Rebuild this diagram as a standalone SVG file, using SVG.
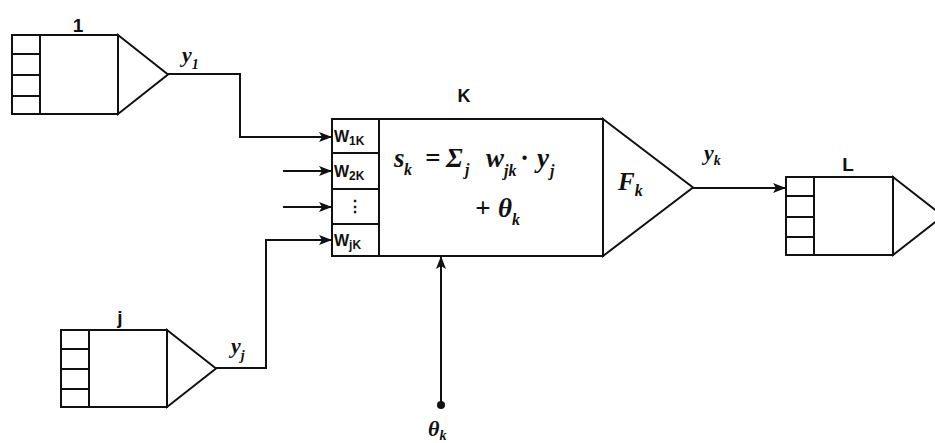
<svg xmlns="http://www.w3.org/2000/svg" width="935" height="443" viewBox="0 0 935 443">
<style>
.s{fill:none;stroke:#111;stroke-width:2;stroke-linejoin:miter}
.b{fill:#fff;stroke:#111;stroke-width:2}
.lab{font-family:"Liberation Sans",Arial,sans-serif;font-weight:bold;fill:#111}
.m{font-family:"Liberation Serif","Times New Roman",serif;font-weight:bold;font-style:italic;fill:#111}
.c{font-family:"Liberation Sans",Arial,sans-serif;font-weight:bold;fill:#111;font-size:16px}
</style>
<defs>
<marker id="ar" markerUnits="userSpaceOnUse" markerWidth="14" markerHeight="12" refX="13" refY="6" orient="auto">
<path d="M0,1 L13,6 L0,11 L3,6 Z" fill="#111"/>
</marker>
</defs>
<rect width="935" height="443" fill="#fff"/>

<g id="node-1">
<rect class="b" x="12" y="35" width="106" height="79"/>
<line class="s" x1="40" y1="35" x2="40" y2="114"/>
<path class="s" d="M12,54 H40 M12,75 H40 M12,96 H40"/>
<path class="b" d="M118,35 L168,74.5 L118,114 Z"/>
<text class="lab" x="78" y="32" font-size="19" text-anchor="middle">1</text>
</g>

<g id="node-j">
<rect class="b" x="61" y="330" width="106" height="77"/>
<line class="s" x1="89" y1="330" x2="89" y2="407"/>
<path class="s" d="M61,349 H89 M61,369 H89 M61,389 H89"/>
<path class="b" d="M167,330 L216,368.5 L167,407 Z"/>
<text class="lab" x="120" y="324" font-size="19" text-anchor="middle">j</text>
</g>

<g id="node-K">
<rect class="b" x="332" y="119" width="271" height="137"/>
<line class="s" x1="379" y1="119" x2="379" y2="256"/>
<path class="s" d="M332,153 H379 M332,189 H379 M332,224 H379"/>
<path class="b" d="M603,119 L693,187.5 L603,256 Z"/>
<text class="lab" x="464" y="102" font-size="18" text-anchor="middle">K</text>
<text class="c" x="334" y="142">W<tspan font-size="12" dy="3">1K</tspan></text>
<text class="c" x="334" y="177">W<tspan font-size="12" dy="3">2K</tspan></text>
<text class="c" x="355" y="212" text-anchor="middle">⋮</text>
<text class="c" x="334" y="246">W<tspan font-size="12" dy="3">jK</tspan></text>
<text class="m" font-size="27"><tspan x="394" y="167">s</tspan><tspan x="404" y="175" font-size="16">k</tspan><tspan x="425" y="167">=</tspan><tspan x="446" y="167">Σ</tspan><tspan x="465" y="175" font-size="16">j</tspan><tspan x="486" y="167">w</tspan><tspan x="504" y="176" font-size="16">jk</tspan><tspan x="521" y="167">·</tspan><tspan x="537" y="167">y</tspan><tspan x="550" y="176" font-size="16">j</tspan></text>
<text class="m" font-size="27"><tspan x="475" y="217">+</tspan><tspan x="498" y="217">θ</tspan><tspan x="512" y="225" font-size="16">k</tspan></text>
<text class="m" x="618" y="190" font-size="25">F<tspan font-size="16" dy="6">k</tspan></text>
</g>

<g id="node-L">
<rect class="b" x="786" y="177" width="107" height="78"/>
<line class="s" x1="814" y1="177" x2="814" y2="255"/>
<path class="s" d="M786,196 H814 M786,217 H814 M786,237 H814"/>
<path class="b" d="M893,177 L943,216 L893,255 Z"/>
<text class="lab" x="848" y="171" font-size="19" text-anchor="middle">L</text>
</g>

<g id="connectors">
<path class="s" d="M168,74 H240 V137 H332" marker-end="url(#ar)"/>
<path class="s" d="M283,171 H332" marker-end="url(#ar)"/>
<path class="s" d="M283,207 H332" marker-end="url(#ar)"/>
<path class="s" d="M216,368 H266 V240 H332" marker-end="url(#ar)"/>
<path class="s" d="M693,188 H786" marker-end="url(#ar)"/>
<path class="s" d="M441,405 V256" marker-end="url(#ar)"/>
<circle cx="441" cy="405" r="4" fill="#111"/>
<text class="m" x="182" y="62" font-size="22">y<tspan font-size="14" dy="7">1</tspan></text>
<text class="m" x="231" y="353" font-size="22">y<tspan font-size="14" dy="7">j</tspan></text>
<text class="m" x="704" y="160" font-size="22">y<tspan font-size="14" dy="5">k</tspan></text>
<text class="m" x="428" y="436" font-size="22">θ<tspan font-size="14" dy="4">k</tspan></text>
</g>
</svg>
